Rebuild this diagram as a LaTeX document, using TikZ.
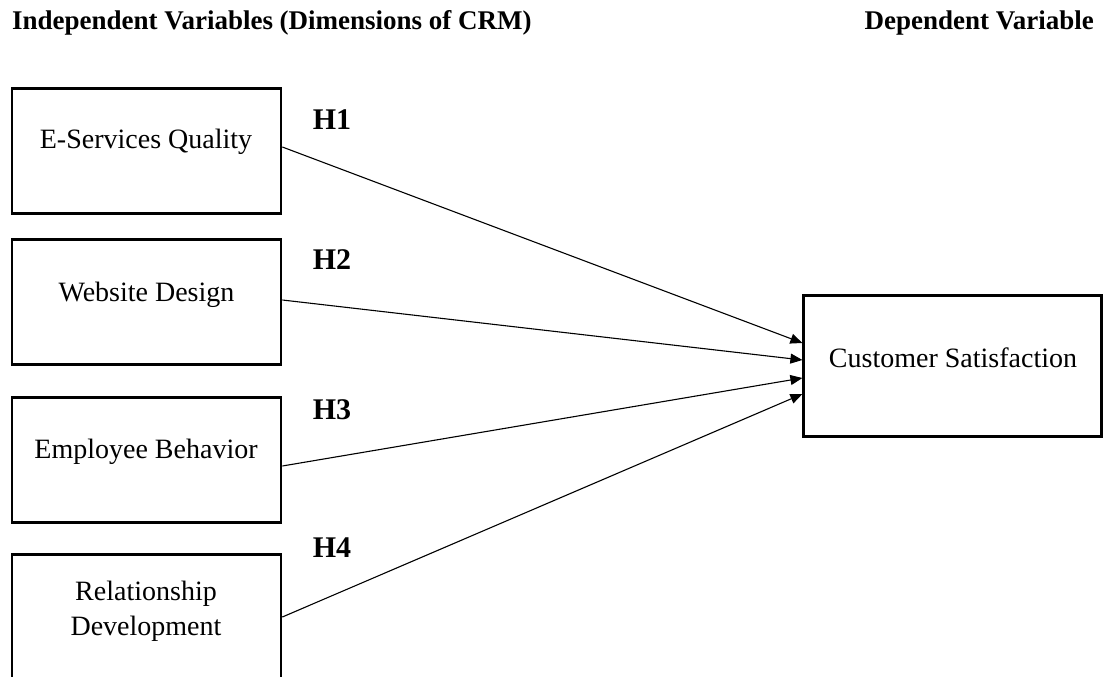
\documentclass[tikz,border=0pt]{standalone}
\usepackage{fontspec}
\setmainfont{Liberation Serif}
\usetikzlibrary{arrows.meta}
\begin{document}
\begin{tikzpicture}[x=1pt,y=-1pt,
 box/.style={draw, line width=2.2pt, minimum width=269pt, minimum height=125pt, inner sep=0pt},
 lbl/.style={font=\fontsize{28}{35}\selectfont, align=center, inner sep=0pt},
 hyp/.style={font=\fontsize{30}{34}\selectfont\bfseries, inner sep=0pt},
 head/.style={font=\fontsize{27}{32}\selectfont\bfseries, inner sep=0pt},
 arr/.style={line width=1.1pt, -{Triangle[length=12pt,width=10pt]}}]
\clip (0,0) rectangle (1103,677);
% headers
\node[head, anchor=west] (hi) at (12,23) {Independent Variables (Dimensions of CRM)};
\node[head, anchor=east] (hd) at (1094,23) {Dependent Variable};
% boxes
\node[box] (b1) at (146.75,151) {};
\node[box] (b2) at (146.75,302) {};
\node[box] (b3) at (146.75,460) {};
\node[box] (b4) at (146.75,617) {};
\node[box, minimum width=298pt, minimum height=141pt] (cs) at (952.5,366) {};
% texts
\node[lbl] (t1) at (146,142) {E-Services Quality};
\node[lbl] (t2) at (146.5,295) {Website Design};
\node[lbl] (t3) at (146,452) {Employee Behavior};
\node[lbl] (t4) at (146,611) {Relationship\\Development};
\node[lbl] (tc) at (953,358) {Customer Satisfaction};
% hypotheses
\node[hyp] (h1) at (332,120) {H1};
\node[hyp] (h2) at (332,260) {H2};
\node[hyp] (h3) at (332,410) {H3};
\node[hyp] (h4) at (332,548) {H4};
% arrows
\draw[arr] ([yshift=4pt]b1.east) -- ([yshift=23pt]cs.west);
\draw[arr] ([yshift=2pt]b2.east) -- ([yshift=6pt]cs.west);
\draw[arr] ([yshift=-6pt]b3.east) -- ([yshift=-12pt]cs.west);
\draw[arr] (b4.east) -- ([yshift=-28pt]cs.west);
\end{tikzpicture}
\end{document}
